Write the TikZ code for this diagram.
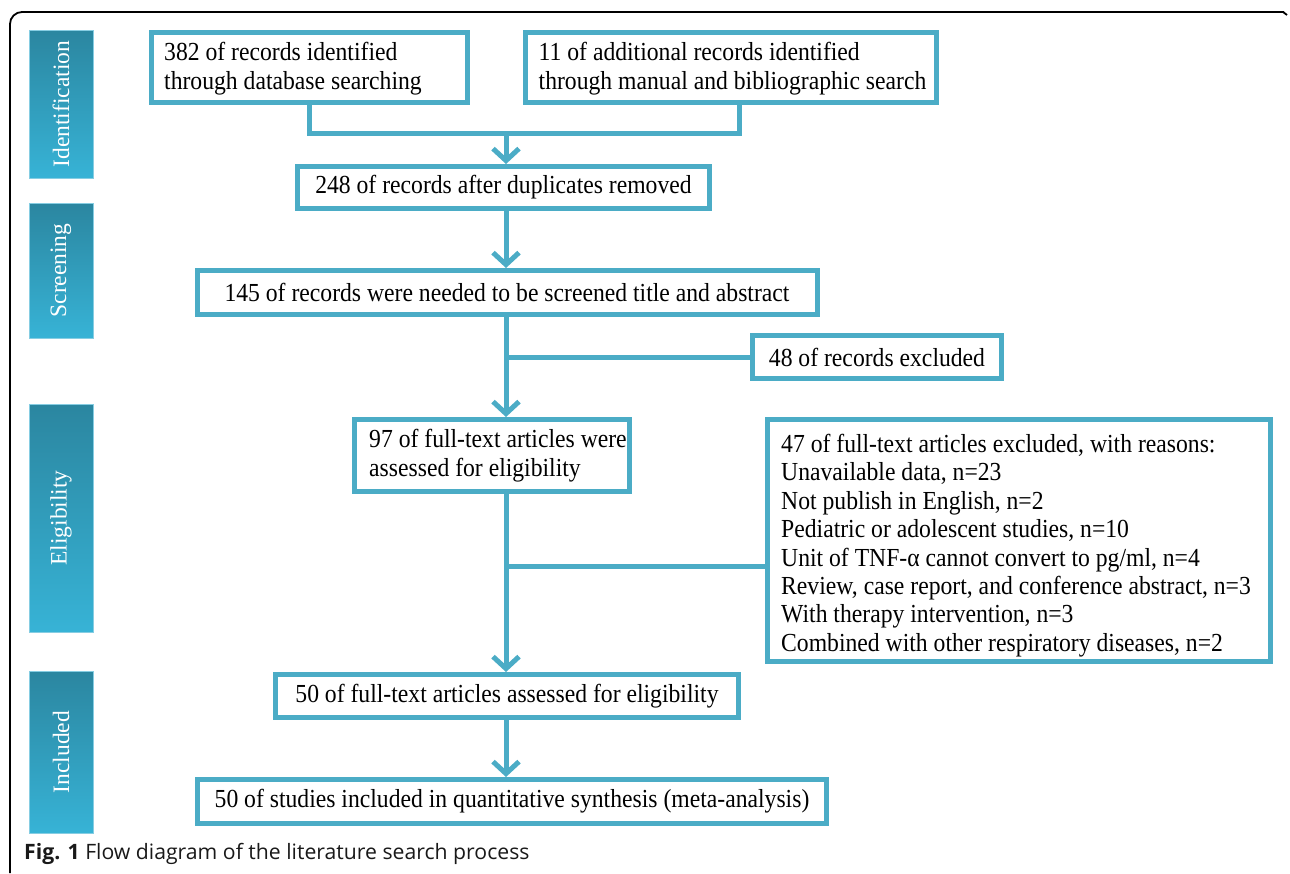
\documentclass[tikz,border=0pt]{standalone}
\usepackage{fontspec}
\setmainfont{Liberation Serif}[FakeStretch=0.91]
\newfontfamily\barfont{Liberation Serif}
\newfontfamily\capfont{Open Sans}
\usetikzlibrary{arrows.meta}
\definecolor{boxc}{HTML}{4BACC6}
\definecolor{bartop}{HTML}{2B86A0}
\definecolor{barbot}{HTML}{37B3D6}
\definecolor{baredge}{HTML}{86CDE2}
\tikzset{
  boxfont/.style={font=\fontsize{26pt}{28.4pt}\selectfont},
  box/.style={draw=boxc, line width=5pt, fill=white, inner xsep=10pt, inner ysep=2pt, boxfont},
  mtext/.style={anchor=west, align=flush left, inner sep=0pt, boxfont},
  bar/.style={draw=baredge, line width=1pt, top color=bartop, bottom color=barbot,
    minimum width=64pt, inner sep=0pt},
  bartext/.style={text=white, rotate=90, font=\barfont\fontsize{23.5pt}{26pt}\selectfont},
  conn/.style={draw=boxc, line width=5pt},
  arr/.style={conn, -{Straight Barb[length=12pt,width=26pt]}},
}
\begin{document}
\begin{tikzpicture}[x=1pt,y=-1pt]
\useasboundingbox (0,0) rectangle (1290,873);
% frame
\draw[line width=1.8pt, rounded corners=12pt] (10,873) -- (10,12) -- (1284,12);
\draw[line width=1.8pt] (1283,12) -- (1287,15);
% stage bars
\node[bar, minimum height=148pt] (bid) at (61,104) {};
\node[bartext] (tid) at (bid) {Identification};
\node[bar, minimum height=135pt] (bsc) at (61,270.5) {};
\node[bartext] (tsc) at (bsc) {Screening};
\node[bar, minimum height=228pt] (bel) at (61,518) {};
\node[bartext] (tel) at (bel) {Eligibility};
\node[bar, minimum height=162pt] (bin) at (61,752) {};
\node[bartext] (tin) at (bin) {Included};
% boxes
\node[box, minimum width=316pt, minimum height=70pt] (b1) at (309.5,67.5) {};
\node[mtext] (t1) at ([xshift=15pt, yshift=-1pt]b1.west)
  {382 of records identified\\through database searching};
\node[box, minimum width=411pt, minimum height=70pt] (b2) at (731,67.5) {};
\node[mtext] (t2) at ([xshift=15.5pt, yshift=-1pt]b2.west)
  {11 of additional records identified\\through manual and bibliographic search};
\node[box, minimum width=412pt, minimum height=42pt] (b3) at (503.5,187.5)
  {248 of records after duplicates removed};
\node[box, minimum width=620pt, minimum height=44pt] (b4) at (507,292.5)
  {145 of records were needed to be screened title and abstract};
\node[box, minimum width=249pt, minimum height=43pt] (b48) at (877,357)
  {48 of records excluded};
\node[box, minimum width=275pt, minimum height=72pt] (b5) at (492,455.5) {};
\node[mtext] (t5) at ([xshift=17pt]b5.west)
  {97 of full-text articles were\\assessed for eligibility};
\node[box, minimum width=503pt, minimum height=242pt] (b47) at (1019,540.5) {};
\node[mtext] (t47) at ([xshift=16pt, yshift=-5pt]b47.west)
  {47 of full-text articles excluded, with reasons:\\
   Unavailable data, n=23\\
   Not publish in English, n=2\\
   Pediatric or adolescent studies, n=10\\
   Unit of TNF-α cannot convert to pg/ml, n=4\\
   Review, case report, and conference abstract, n=3\\
   With therapy intervention, n=3\\
   Combined with other respiratory diseases, n=2};
\node[box, minimum width=463pt, minimum height=43pt] (b6) at (507,696)
  {50 of full-text articles assessed for eligibility};
\node[box, minimum width=629pt, minimum height=44pt] (b7) at (512,801.5)
  {50 of studies included in quantitative synthesis (meta-analysis)};
% connectors
\coordinate (sp) at (506,0);
\coordinate (j1) at (506,133);
\draw[conn] (b1.south) |- (j1);
\draw[conn] ([xshift=8pt]b2.south) |- (j1);
\draw[arr] (j1) -- (j1 |- b3.north);
\draw[arr] (b3.south -| sp) -- (b4.north -| sp);
\draw[arr] (b4.south -| sp) -- (b5.north -| sp);
\draw[conn] (b48.west -| sp) -- (b48.west);
\coordinate (j2) at (506,566);
\draw[arr] (b5.south -| sp) -- (b6.north -| sp);
\draw[conn] (j2) -- (j2 -| b47.west);
\draw[arr] (b6.south -| sp) -- (b7.north -| sp);
% caption
\node[anchor=base west, inner sep=0pt, font=\capfont\fontsize{21.2pt}{24pt}\selectfont, text=black!90] (cap) at (24,859)
  {\textbf{Fig. 1} Flow diagram of the literature search process};
\end{tikzpicture}
\end{document}
